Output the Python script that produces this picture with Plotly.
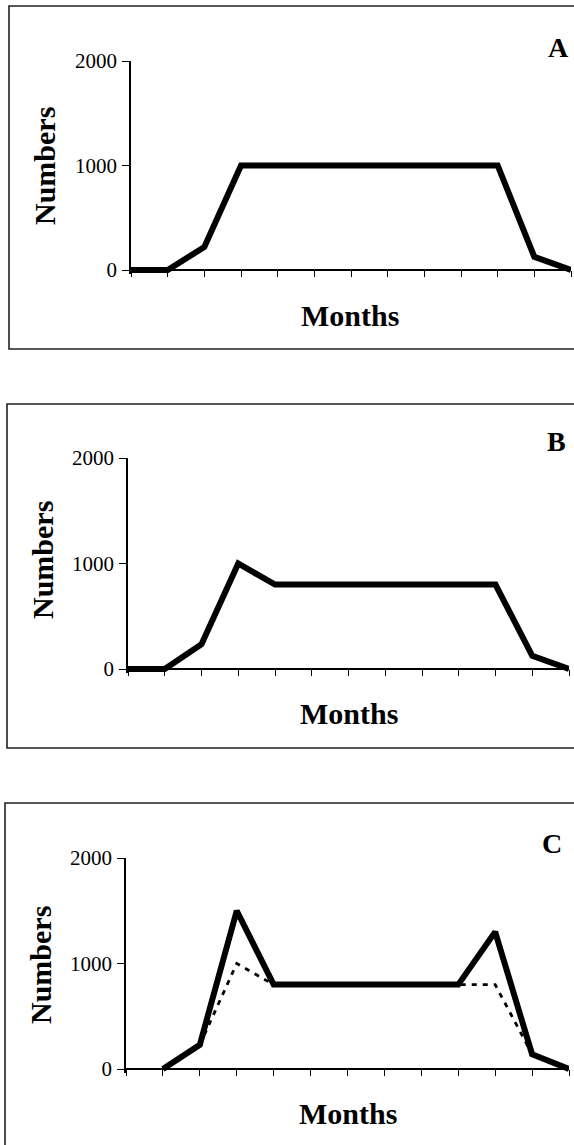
import plotly.graph_objects as go

W, H = 574, 1145

months = list(range(13))
tick_vals_y = [0, 1000, 2000]
tick_text_y = ["0", "1000", "2000"]

panel_a = [0, 0, 220, 1000, 1000, 1000, 1000, 1000, 1000, 1000, 1000, 125, 0]
panel_b = [0, 0, 235, 1000, 800, 800, 800, 800, 800, 800, 800, 125, 0]
panel_c_solid = [None, 0, 230, 1500, 800, 800, 800, 800, 800, 800, 1300, 140, 0]
panel_c_dashed = [None, 0, 230, 1000, 800, 800, 800, 800, 800, 800, 800, 140, 0]

labels = ["A", "B", "C"]

# pixel geometry per panel
geo = [
    dict(x0=131, x1=571, yb=270, yt=61, bx=9, by0=6, by1=349,
         num=(45, 166), mon=(350, 315), let=(558, 47)),
    dict(x0=128, x1=569, yb=669, yt=458, bx=7, by0=404, by1=748,
         num=(42, 560), mon=(349, 713), let=(556, 442)),
    dict(x0=126, x1=569, yb=1069, yt=858, bx=5, by0=803, by1=1160,
         num=(40, 965), mon=(348, 1113), let=(552, 843)),
]

def fx(p):
    return p / W

def fy(p):
    return 1 - p / H

YMIN = -35
fig = go.Figure()
serif = "Liberation Serif, Times New Roman, serif"

series = [[(panel_a, "solid", 6)], [(panel_b, "solid", 6)],
          [(panel_c_dashed, "5px,6px", 2.8), (panel_c_solid, "solid", 6)]]

shapes = []
annotations = []
for i, g in enumerate(geo):
    n = "" if i == 0 else str(i + 1)
    scale = (g["yb"] - g["yt"]) / 2000.0
    ybot_px = g["yb"] - YMIN * scale
    for vals, dash, w in series[i]:
        fig.add_trace(go.Scatter(
            x=months, y=vals, mode="lines",
            line=dict(color="black", width=w, dash=dash),
            xaxis="x" + n, yaxis="y" + n, showlegend=False, hoverinfo="skip"))
    fig.layout["xaxis" + n] = dict(
        domain=[fx(g["x0"]), fx(g["x1"])], range=[0, 12],
        anchor="free", position=fy(g["yb"]), automargin=False,
        showline=True, linecolor="black", linewidth=1.5,
        ticks="outside", tickvals=months, ticklen=6, tickwidth=1.2,
        tickcolor="black", showticklabels=False, showgrid=False, zeroline=False)
    fig.layout["yaxis" + n] = dict(
        domain=[fy(ybot_px), fy(g["yt"])], range=[YMIN, 2000],
        anchor="x" + n, automargin=False,
        showline=True, linecolor="black", linewidth=1.5,
        ticks="outside", tickvals=tick_vals_y, ticktext=tick_text_y,
        ticklen=7, tickwidth=1.2, tickcolor="black", ticklabelstandoff=1,
        tickfont=dict(family=serif, size=21, color="black"),
        showgrid=False, zeroline=False)
    # inner half of the crossing tick marks
    fig.layout["yaxis" + str(i + 4)] = dict(
        overlaying="y" + n, anchor="x" + n, side="left", range=[YMIN, 2000],
        automargin=False, showline=False, showgrid=False, zeroline=False,
        ticks="inside", tickvals=[0, 1000], ticklen=6, tickwidth=1.2,
        tickcolor="black", showticklabels=False)
    shapes.append(dict(type="rect", xref="paper", yref="paper",
                       x0=fx(g["bx"]), x1=fx(W + 20), y0=fy(g["by1"]), y1=fy(g["by0"]),
                       line=dict(color="#222", width=1.6), layer="below"))
    annotations.append(dict(text="Numbers", textangle=-90, x=fx(g["num"][0]), y=fy(g["num"][1]),
                            xref="paper", yref="paper", showarrow=False,
                            xanchor="center", yanchor="middle",
                            font=dict(family=serif, size=30, color="black", weight="bold")))
    annotations.append(dict(text="Months", x=fx(g["mon"][0]), y=fy(g["mon"][1]),
                            xref="paper", yref="paper", showarrow=False,
                            xanchor="center", yanchor="middle",
                            font=dict(family=serif, size=30, color="black", weight="bold")))
    annotations.append(dict(text=labels[i], x=fx(g["let"][0]), y=fy(g["let"][1]),
                            xref="paper", yref="paper", showarrow=False,
                            xanchor="center", yanchor="middle",
                            font=dict(family=serif, size=28, color="black", weight="bold")))

fig.update_layout(width=W, height=H, autosize=False,
                  margin=dict(l=0, r=0, t=0, b=0, pad=0),
                  paper_bgcolor="white", plot_bgcolor="rgba(0,0,0,0)",
                  shapes=shapes, annotations=annotations)

fig.write_html(
    "out.html",
    config={"displayModeBar": False},
    post_script=("document.body.style.margin='0';"
                 "document.body.style.padding='0';"
                 "document.documentElement.style.overflow='hidden';"
                 "document.body.style.overflow='hidden';"),
)
